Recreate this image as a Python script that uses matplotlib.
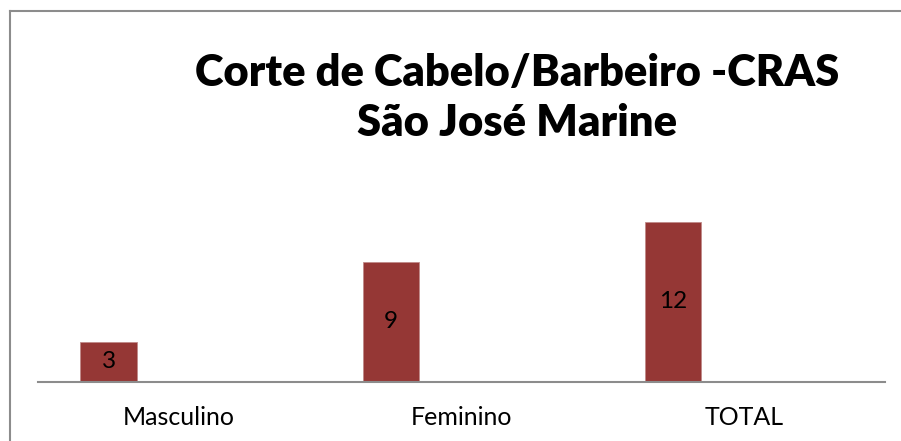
import matplotlib
matplotlib.use("Agg")
import matplotlib.pyplot as plt
from matplotlib.lines import Line2D

categories = ["Masculino", "Feminino", "TOTAL"]
values = [3, 9, 12]
title_lines = ["Corte de Cabelo/Barbeiro -CRAS", "São José Marine"]

W, H = 901, 441
fig = plt.figure(figsize=(W / 100, H / 100), dpi=100)
fig.patch.set_facecolor("white")

# outer chart border (only left/top visible)
bx, by = 9.5 / W, 1 - 10.5 / H
fig.add_artist(Line2D([bx, bx], [-0.05, by], transform=fig.transFigure, color="#8c8c8c", linewidth=1.5))
fig.add_artist(Line2D([bx, 1.05], [by, by], transform=fig.transFigure, color="#8c8c8c", linewidth=1.5))

left, right = 38 / W, 885 / W
bottom = 1 - 382 / H
top = 1 - 195 / H
ax = fig.add_axes([left, bottom, right - left, top - bottom])
ax.set_xlim(-0.5, 2.5)
ax.set_ylim(0, 14)

x = list(range(len(categories)))
bars = ax.bar([i - 0.25 for i in x], values, width=0.2, color="#953735", edgecolor="#c08a89", linewidth=0.6, zorder=2)
for b, v in zip(bars, values):
    ax.text(b.get_x() + b.get_width() / 2, v / 2, str(v), ha="center", va="center",
            fontsize=17.5, family="Lato", color="black")

for s in ["top", "right", "left"]:
    ax.spines[s].set_visible(False)
ax.spines["bottom"].set_color("#8c8c8c")
ax.spines["bottom"].set_linewidth(1.5)
ax.set_yticks([])
ax.set_xticks(x)
ax.set_xticklabels(categories, fontsize=18, family="Lato")
ax.tick_params(axis="x", length=0, pad=17)

fig.text(517 / W, 1 - 73 / H, title_lines[0], ha="center", va="center", fontsize=31.3,
         fontweight="heavy", family="Lato")
fig.text(517 / W, 1 - 123 / H, title_lines[1], ha="center", va="center", fontsize=31.3,
         fontweight="heavy", family="Lato")

fig.savefig("out.png", dpi=100)
